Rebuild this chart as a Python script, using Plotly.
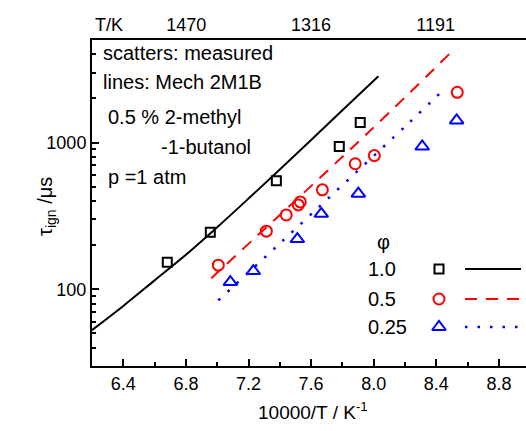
import math
import plotly.graph_objects as go

# ---------------- data ----------------
# measured ignition delays (10000/T, tau in microseconds)
phi1_x = [6.681, 6.956, 7.378, 7.780, 7.914]
phi1_y = [153, 245, 550, 939, 1371]
phi05_x = [7.007, 7.314, 7.441, 7.518, 7.531, 7.672, 7.882, 8.004, 8.534]
phi05_y = [146, 249, 321, 376, 394, 476, 717, 815, 2200]
phi025_x = [7.084, 7.231, 7.512, 7.665, 7.902, 8.310, 8.530]
phi025_y = [112, 133, 220, 327, 448, 940, 1415]

# model lines (Mech 2M1B)
mech1_x = [6.2, 6.4, 6.6, 6.8, 7.0, 7.2, 7.4, 7.6, 7.8, 8.03]
mech1_y = [52.7, 77, 115, 172, 265, 415, 655, 1040, 1660, 2830]
mech05_x = [6.962, 7.965, 8.502]
mech05_y = [119, 1170, 4200]
mech025_x = [7.007, 7.410, 8.221, 8.464]
mech025_y = [84, 210, 1349, 2380]

x_ticks = [6.4, 6.8, 7.2, 7.6, 8.0, 8.4, 8.8]
x_ticklabels = ["6.4", "6.8", "7.2", "7.6", "8.0", "8.4", "8.8"]
y_ticks = [100, 1000]
y_ticklabels = ["100", "1000"]
y_minor = [40, 50, 60, 70, 80, 90, 200, 300, 400, 500, 600, 700, 800, 900,
           2000, 3000, 4000]
top_T = [1470, 1316, 1191]

legend_labels = ["1.0", "0.5", "0.25"]

# ---------------- styling ----------------
FONT = "Arial, Liberation Sans, sans-serif"
BLACK = "#000000"
RED = "#ff0000"
BLUE = "#0000ff"

W, H = 526, 431
ML, MR, MT, MB = 92, 0, 40, 65
PW = W - ML - MR
PH = H - MT - MB

x_lo = 6.2
x_hi = 6.2 + PW / 156.5
y_range = [math.log10(30), math.log10(5000)]


def px(xp):
    return (xp - ML) / PW


def py(yp):
    return (H - MB - yp) / PH


fig = go.Figure()

# model lines
fig.add_trace(go.Scatter(x=mech1_x, y=mech1_y, mode="lines",
                         line=dict(color=BLACK, width=2, shape="spline"),
                         showlegend=False))
fig.add_trace(go.Scatter(x=mech05_x, y=mech05_y, mode="lines",
                         line=dict(color=RED, width=2, dash="12px,9px", shape="spline"),
                         showlegend=False))
fig.add_trace(go.Scatter(x=mech025_x, y=mech025_y, mode="lines",
                         line=dict(color=BLUE, width=2.5, dash="2.5px,10px", shape="spline"),
                         showlegend=False))

# measured points
fig.add_trace(go.Scatter(x=phi1_x, y=phi1_y, mode="markers",
                         marker=dict(symbol="square-open", size=9, color=BLACK,
                                     line=dict(width=2, color=BLACK)),
                         showlegend=False))
fig.add_trace(go.Scatter(x=phi05_x, y=phi05_y, mode="markers",
                         marker=dict(symbol="circle-open", size=11, color=RED,
                                     line=dict(width=2, color=RED)),
                         showlegend=False))
fig.add_trace(go.Scatter(x=phi025_x, y=phi025_y, mode="markers",
                         marker=dict(symbol="triangle-up-open", size=12, color=BLUE,
                                     line=dict(width=2, color=BLUE)),
                         showlegend=False))

# invisible trace for the top (T/K) axis
fig.add_trace(go.Scatter(x=[x_lo, x_hi], y=[100, 100], xaxis="x2", mode="lines",
                         line=dict(width=0), hoverinfo="skip", showlegend=False))

# ---------------- hand-drawn legend key (on an overlay axis 0..1) ----------------
leg_rows = [py(269), py(299), py(327)]
leg_marker_x = px(439)
leg_line_x = [px(465), px(521)]
leg_styles = [
    (dict(symbol="square-open", size=9, color=BLACK, line=dict(width=2, color=BLACK)),
     dict(color=BLACK, width=2)),
    (dict(symbol="circle-open", size=11, color=RED, line=dict(width=2, color=RED)),
     dict(color=RED, width=2, dash="12px,9px")),
    (dict(symbol="triangle-up-open", size=12, color=BLUE, line=dict(width=2, color=BLUE)),
     dict(color=BLUE, width=2.5, dash="2.5px,10px")),
]
for row_y, (mk, ln) in zip(leg_rows, leg_styles):
    fig.add_trace(go.Scatter(x=[leg_marker_x], y=[row_y], xaxis="x3", yaxis="y3",
                             mode="markers", marker=mk, showlegend=False,
                             hoverinfo="skip"))
    fig.add_trace(go.Scatter(x=leg_line_x, y=[row_y, row_y], xaxis="x3", yaxis="y3",
                             mode="lines", line=ln, showlegend=False,
                             hoverinfo="skip"))

annotations = []
for row_y, lab in zip(leg_rows, legend_labels):
    annotations.append(dict(x=px(366), y=row_y, xref="paper", yref="paper",
                            text=lab, showarrow=False, xanchor="left",
                            yanchor="middle", font=dict(size=20, color=BLACK)))
annotations.append(dict(x=px(383), y=py(242), xref="paper", yref="paper",
                        text="\u03c6", showarrow=False, xanchor="center",
                        yanchor="middle", font=dict(size=20, color=BLACK)))

# text block
text_items = [
    ("scatters: measured", 101, 53),
    ("lines: Mech 2M1B", 101, 82),
    ("0.5 % 2-methyl", 106, 117),
    ("-1-butanol", 159, 147),
    ("p =1 atm", 106, 177),
]
for txt, xx, yy in text_items:
    annotations.append(dict(x=px(xx), y=py(yy), xref="paper", yref="paper",
                            text=txt, showarrow=False, xanchor="left",
                            yanchor="middle", font=dict(size=20, color=BLACK)))

annotations.append(dict(x=px(93), y=py(25), xref="paper", yref="paper",
                        text="T/K", showarrow=False, xanchor="left",
                        yanchor="middle", font=dict(size=18, color=BLACK)))

# axis titles
annotations.append(dict(x=px(313), y=py(411), xref="paper", yref="paper",
                        text="10000/T / K<sup>-1</sup>", showarrow=False,
                        xanchor="center", yanchor="middle",
                        font=dict(size=19, color=BLACK)))
annotations.append(dict(x=px(47), y=py(207), xref="paper", yref="paper",
                        text="\u03c4<sub>ign</sub> /\u03bcs", showarrow=False,
                        textangle=-90, xanchor="center", yanchor="middle",
                        font=dict(size=20, color=BLACK)))

fig.update_layout(
    width=W, height=H,
    margin=dict(l=ML, r=MR, t=MT, b=MB, pad=0),
    paper_bgcolor="white", plot_bgcolor="white",
    font=dict(family=FONT, size=18, color=BLACK),
    showlegend=False,
    annotations=annotations,
    xaxis=dict(range=[x_lo, x_hi], tickvals=x_ticks, ticktext=x_ticklabels,
               ticks="inside", ticklen=7, tickwidth=1.5, tickcolor=BLACK,
               showline=True, linewidth=2, linecolor=BLACK, mirror=False,
               showgrid=False, zeroline=False,
               tickfont=dict(size=18),
               minor=dict(ticks="inside", ticklen=4, tickwidth=1.5,
                          tickcolor=BLACK, dtick=0.2, tick0=6.2, showgrid=False)),
    xaxis2=dict(overlaying="x", side="top", range=[x_lo, x_hi],
                tickvals=[10000 / t for t in top_T],
                ticktext=[str(t) for t in top_T],
                ticks="", showline=True, linewidth=2, linecolor=BLACK,
                showgrid=False, zeroline=False, tickfont=dict(size=18)),
    yaxis=dict(type="log", range=y_range, tickvals=y_ticks, ticktext=y_ticklabels,
               ticks="inside", ticklen=7, tickwidth=1.5, tickcolor=BLACK,
               showline=True, linewidth=2, linecolor=BLACK, mirror=False,
               showgrid=False, zeroline=False, tickfont=dict(size=18),
               minor=dict(ticks="inside", ticklen=4, tickwidth=1.5,
                          tickcolor=BLACK, tickvals=y_minor, showgrid=False)),
    xaxis3=dict(overlaying="x", range=[0, 1], visible=False),
    yaxis3=dict(overlaying="y", range=[0, 1], visible=False),
)

fig.write_html("out.html",
               config={"displayModeBar": False},
               post_script="document.body.style.margin='0px';"
                           "document.body.style.overflow='hidden';")
